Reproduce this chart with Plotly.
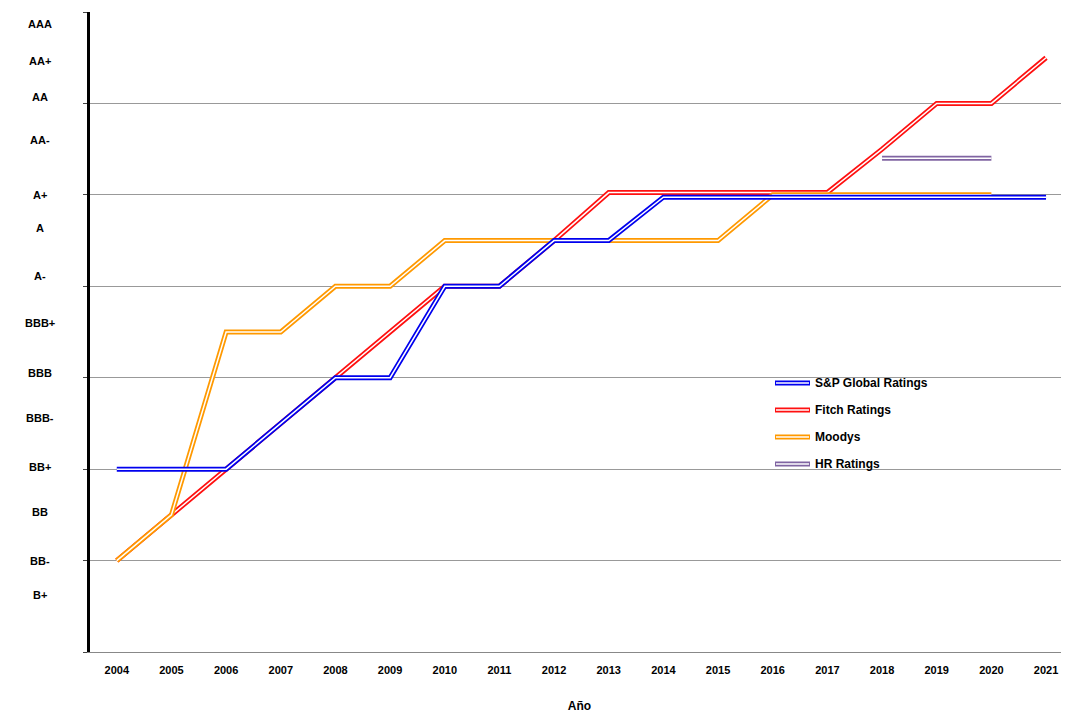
import plotly.graph_objects as go

years = list(range(2004, 2022))
sp = [2, 2, 2, 3, 4, 4, 6, 6, 7, 7, 7.95, 7.95, 7.95, 7.95, 7.95, 7.95, 7.95, 7.95]
fitch = [0, 1, 2, 3, 4, 5, 6, 6, 7, 8.05, 8.05, 8.05, 8.05, 8.05, 9, 10, 10, 11]
moodys_years = list(range(2004, 2021))
moodys = [0, 1, 5, 5, 6, 6, 7, 7, 7, 7, 7, 7, 8, 8, 8, 8, 8]
hr_years = [2018, 2019, 2020]
hr = [8.8, 8.8, 8.8]
rating_labels = ["B+", "BB-", "BB", "BB+", "BBB-", "BBB", "BBB+", "A-", "A", "A+", "AA-", "AA", "AA+", "AAA"]
rating_vals = [-1, 0, 1, 2, 3, 4, 5, 6, 7, 8, 9, 10, 11, 12]
label_down = [-11, 0, -3, -2, -5, -5, -9, -10, -13, 0, -9, -6, 3, 12]
series = [("S&P Global Ratings", "#0000ee", years, sp),
          ("Fitch Ratings", "#ff1010", years, fitch),
          ("Moodys", "#ff9900", moodys_years, moodys),
          ("HR Ratings", "#8064a2", hr_years, hr)]

fig = go.Figure()
for idx in [1, 2, 3, 0]:
    name, col, xs, ys = series[idx]
    fig.add_trace(go.Scatter(x=xs, y=ys, mode="lines", line=dict(color=col, width=5), showlegend=False))
    fig.add_trace(go.Scatter(x=xs, y=ys, mode="lines", line=dict(color="white", width=1.5), showlegend=False))

font = dict(family="Liberation Sans, Arial", size=11, color="black")
ann = []
for lab, v, s in zip(rating_labels, rating_vals, label_down):
    ann.append(dict(x=0, xref="paper", xanchor="center", xshift=-50, y=v, yref="y", yshift=-s,
                    text="<b>%s</b>" % lab, showarrow=False, font=font))
shapes = []
for i, (name, col, xs, ys) in enumerate(series):
    yy = 383 + 27 * i
    yp = 1 - (yy - 12) / 640
    shapes.append(dict(type="line", xref="paper", yref="paper", x0=(775 - 90) / 979, x1=(810 - 90) / 979,
                       y0=yp, y1=yp, line=dict(color=col, width=5)))
    shapes.append(dict(type="line", xref="paper", yref="paper", x0=(776 - 90) / 979, x1=(809 - 90) / 979,
                       y0=yp, y1=yp, line=dict(color="white", width=1.5)))
    ann.append(dict(x=(813 - 90) / 979, xref="paper", xanchor="left", y=yp, yref="paper", yanchor="middle",
                    text="<b>%s</b>" % name, showarrow=False, font=dict(family="Liberation Sans, Arial", size=12)))

fig.update_layout(
    width=1061, height=705, margin=dict(l=82, r=0, t=4, b=61, autoexpand=False),
    plot_bgcolor="white", paper_bgcolor="white", font=font,
    annotations=ann, shapes=shapes,
    xaxis=dict(range=[2003.51, 2021.42], tickvals=years, ticktext=["<b>%d</b>" % y for y in years],
               showgrid=False, showline=True, linecolor="#888", ticks="", zeroline=False, automargin=False,
               ticklabelstandoff=8,
               title=dict(text="<b>Año</b>", font=dict(size=12), standoff=31)),
    yaxis=dict(range=[-2, 12], dtick=2, tick0=0, showticklabels=False, showgrid=True, gridcolor="#999",
               gridwidth=1, showline=True, linecolor="black", linewidth=3, ticks="outside",
               ticklen=4, zeroline=False, automargin=False),
)
fig.write_html("out.html")
